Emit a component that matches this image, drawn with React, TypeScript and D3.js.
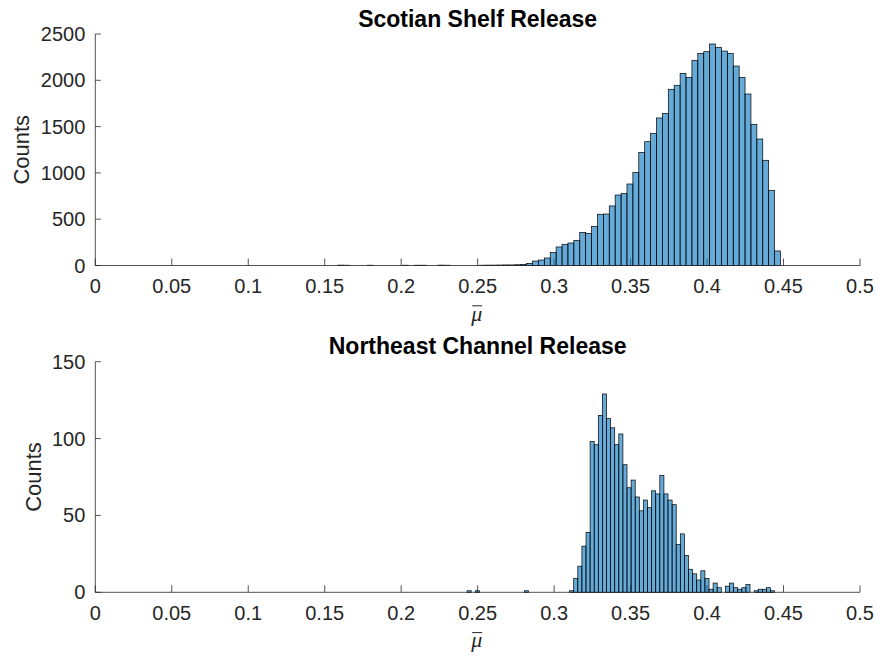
import React from "react";
import * as d3 from "d3";

// ---- Data ----
const xTicks = [0, 0.05, 0.1, 0.15, 0.2, 0.25, 0.3, 0.35, 0.4, 0.45, 0.5];
const xTickLabels = ["0", "0.05", "0.1", "0.15", "0.2", "0.25", "0.3", "0.35", "0.4", "0.45", "0.5"];

const topTitle = "Scotian Shelf Release";
const topYTicks = [0, 500, 1000, 1500, 2000, 2500];
const topBinStart = 0.1585;
const topBinWidth = 0.00386;
const topCounts = [
  4, 3, 0, 0, 0, 3, 0, 0, 0, 0, 0, 3, 0, 3, 3, 0, 0, 4, 3, 0, 0, 0, 0, 0, 3, 4, 4, 5, 6, 6, 8, 12,
  23, 48, 59, 81, 139, 200, 229, 243, 272, 358, 347, 423, 553, 556, 643, 761, 776, 880, 1006, 1222,
  1337, 1424, 1593, 1643, 1903, 1946, 2075, 2032, 2216, 2291, 2309, 2392, 2356, 2316, 2291, 2154,
  2032, 1852, 1525, 1366, 1136, 812, 157,
];

const bottomTitle = "Northeast Channel Release";
const bottomYTicks = [0, 50, 100, 150];
const bottomBinStart = 0.2431;
const bottomBinWidth = 0.002681;
const bottomCounts = [
  1, 0, 1, 0, 0, 0, 0, 0, 0, 0, 0, 0, 0, 0, 1, 0, 0, 0, 0, 0, 0, 0, 0, 0, 0,
  1, 9, 17, 30, 39, 98, 96, 115, 129, 113, 107, 96, 103, 83, 68, 73, 62, 53, 60, 55, 66, 64, 76, 64,
  60, 57, 31, 38, 24, 15, 12, 8, 14, 9, 2, 6, 3, 0, 4, 6, 3, 2, 3, 5, 0, 1, 2, 2, 3, 1,
];

const yLabel = "Counts";
const xLabel = "\u03BC"; // drawn with a bar over it (\bar{\mu})

// ---- Styles / layout ----
const W = 877;
const H = 656;
const FONT = "'Liberation Sans', Arial, Helvetica, sans-serif";
const AX = "#262626";
const FACE = "#0072BD";

interface PanelProps {
  title: string;
  counts: number[];
  binStart: number;
  binWidth: number;
  yTicks: number[];
  top: number;
  bottom: number;
}

function Panel({ title, counts, binStart, binWidth, yTicks, top, bottom }: PanelProps) {
  const x = d3.scaleLinear().domain([0, 0.5]).range([95.3, 860]);
  const y = d3
    .scaleLinear()
    .domain([0, yTicks[yTicks.length - 1]])
    .range([bottom, top]);
  const bins = counts.map((c, i) => ({
    x0: binStart + i * binWidth,
    x1: binStart + (i + 1) * binWidth,
    c,
  }));
  const x0 = x.range()[0];
  const x1 = x.range()[1];
  const cx = (x0 + x1) / 2;
  return (
    <g>
      {/* ticks (drawn below the data, like MATLAB's default layer) */}
      {xTicks.map((t) => (
        <line key={"xt" + t} x1={x(t)} x2={x(t)} y1={bottom} y2={bottom - 7} stroke={AX} strokeWidth={0.8} />
      ))}
      {yTicks.map((t) => (
        <line key={"yt" + t} x1={x0} x2={x0 + 5.5} y1={y(t)} y2={y(t)} stroke={AX} strokeWidth={0.8} />
      ))}
      {/* bars */}
      {bins
        .filter((b) => b.c > 0)
        .map((b, i) => (
          <rect
            key={i}
            x={x(b.x0)}
            y={y(b.c)}
            width={x(b.x1) - x(b.x0)}
            height={y(0) - y(b.c)}
            fill={FACE}
            fillOpacity={0.6}
            stroke="#000"
            strokeWidth={0.7}
          />
        ))}
      {/* axis lines */}
      <line x1={x0} x2={x1} y1={bottom} y2={bottom} stroke={AX} strokeWidth={0.8} />
      <line x1={x0} x2={x0} y1={bottom} y2={top} stroke={AX} strokeWidth={0.8} />
      {/* tick labels */}
      {xTicks.map((t, i) => (
        <text key={"xl" + t} x={x(t)} y={bottom + 27.5} textAnchor="middle" fontSize={20} fontFamily={FONT} fill={AX}>
          {xTickLabels[i]}
        </text>
      ))}
      {yTicks.map((t) => (
        <text key={"yl" + t} x={x0 - 10} y={y(t) + 7} textAnchor="end" fontSize={20} fontFamily={FONT} fill={AX}>
          {String(t)}
        </text>
      ))}
      {/* title */}
      <text x={cx} y={top - 7.5} textAnchor="middle" fontSize={23} fontWeight="bold" fontFamily={FONT} fill="#000">
        {title}
      </text>
      {/* x label: \bar{\mu} */}
      <text
        x={cx - 1}
        y={bottom + 55}
        textAnchor="middle"
        fontSize={22}
        fontStyle="italic"
        fontFamily="'Liberation Serif', 'DejaVu Serif', serif"
        fill={AX}
      >
        {xLabel}
      </text>
      <line x1={cx - 5.5} x2={cx + 4.5} y1={bottom + 40.3} y2={bottom + 40.3} stroke={AX} strokeWidth={1} />
      {/* y label */}
      <text
        transform={`translate(${yTicks[yTicks.length - 1] >= 1000 ? 29 : 41},${(top + bottom) / 2}) rotate(-90)`}
        textAnchor="middle"
        fontSize={22}
        fontFamily={FONT}
        fill={AX}
      >
        {yLabel}
      </text>
    </g>
  );
}

export default function App() {
  return (
    <svg
      width={W}
      height={H}
      viewBox={`0 0 ${W} ${H}`}
      style={{ position: "absolute", left: 0, top: 0, background: "#fff" }}
    >
      <rect x={0} y={0} width={W} height={H} fill="#fff" />
      <Panel
        title={topTitle}
        counts={topCounts}
        binStart={topBinStart}
        binWidth={topBinWidth}
        yTicks={topYTicks}
        top={34}
        bottom={265.5}
      />
      <Panel
        title={bottomTitle}
        counts={bottomCounts}
        binStart={bottomBinStart}
        binWidth={bottomBinWidth}
        yTicks={bottomYTicks}
        top={361.7}
        bottom={592.3}
      />
    </svg>
  );
}
